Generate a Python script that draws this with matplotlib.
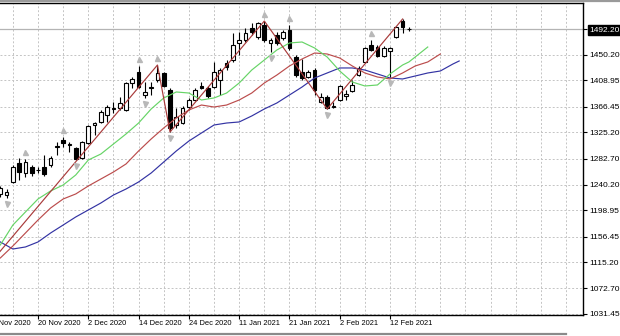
import matplotlib
matplotlib.use("Agg")
import matplotlib.pyplot as plt
from matplotlib import transforms

plt.rcParams['font.family'] = ['Liberation Sans Narrow', 'Liberation Sans', 'DejaVu Sans']

# daily bars, bar 0 = 20 Nov 2020
bars = list(range(-6, 60))
opens = [1225.5, 1223.8, 1244.9, 1275.6, 1259.4, 1269.1, 1264.3, 1269.1, 1272.3, 1301.5,
         1312.8, 1304.7, 1299.8, 1283.7, 1307.9, 1337.0, 1341.9, 1353.2, 1362.9, 1364.5,
         1361.3, 1404.9, 1422.7, 1385.5, 1396.8, 1409.8, 1421.1, 1393.6, 1337.0, 1340.2,
         1366.1, 1377.4, 1400.1, 1396.8, 1398.4, 1409.8, 1437.2, 1442.1, 1469.6, 1474.4,
         1493.8, 1479.3, 1498.7, 1469.6, 1482.5, 1477.7, 1490.6, 1446.9, 1422.7, 1414.6,
         1425.9, 1374.2, 1382.3, 1366.1, 1377.4, 1383.9, 1392.0, 1417.9, 1438.9, 1466.3,
         1463.1, 1448.6, 1456.6, 1479.3, 1505.1, 1492.2]
highs = [1238.4, 1233.5, 1272.3, 1283.7, 1282.0, 1272.3, 1269.1, 1288.5, 1286.9, 1309.5,
         1317.6, 1309.5, 1301.5, 1311.2, 1337.0, 1341.9, 1361.3, 1369.3, 1374.2, 1382.3,
         1406.5, 1414.6, 1432.4, 1406.5, 1406.5, 1434.0, 1422.7, 1396.8, 1364.5, 1367.7,
         1380.7, 1396.8, 1406.5, 1400.1, 1438.9, 1429.2, 1442.1, 1485.7, 1487.4, 1493.8,
         1501.9, 1503.0, 1505.1, 1477.7, 1487.4, 1490.6, 1498.7, 1450.2, 1443.7, 1425.9,
         1429.2, 1388.7, 1385.5, 1374.2, 1401.7, 1393.6, 1409.8, 1432.4, 1463.1, 1474.4,
         1466.3, 1464.7, 1463.1, 1497.1, 1508.4, 1495.4]
lows = [1220.6, 1219.0, 1243.2, 1248.1, 1252.9, 1254.6, 1259.4, 1254.6, 1269.1, 1288.5,
        1301.5, 1293.4, 1280.4, 1282.0, 1306.3, 1320.8, 1340.2, 1341.9, 1356.4, 1361.3,
        1359.6, 1396.8, 1396.8, 1380.7, 1385.5, 1406.5, 1398.4, 1325.7, 1332.2, 1338.6,
        1361.3, 1375.8, 1395.2, 1380.7, 1396.8, 1385.5, 1425.9, 1438.9, 1450.2, 1471.2,
        1482.5, 1476.0, 1471.2, 1455.0, 1466.3, 1474.4, 1458.3, 1414.6, 1409.8, 1413.0,
        1385.5, 1372.6, 1362.9, 1364.5, 1375.8, 1377.4, 1390.4, 1416.2, 1437.2, 1456.6,
        1446.9, 1446.9, 1414.6, 1477.7, 1485.7, 1489.0]
closes = [1235.2, 1228.7, 1269.1, 1261.0, 1277.2, 1259.4, 1264.8, 1257.8, 1283.7, 1303.1,
          1307.9, 1306.3, 1282.0, 1309.5, 1335.4, 1340.2, 1358.0, 1366.1, 1364.5, 1372.6,
          1404.9, 1411.4, 1398.4, 1390.4, 1398.4, 1421.1, 1400.1, 1332.2, 1349.9, 1364.5,
          1377.4, 1393.6, 1396.8, 1383.9, 1422.7, 1425.9, 1430.8, 1466.3, 1474.4, 1485.7,
          1487.4, 1501.9, 1474.4, 1474.4, 1469.6, 1487.4, 1461.5, 1417.9, 1413.0, 1422.7,
          1393.6, 1382.3, 1364.5, 1367.7, 1400.1, 1387.1, 1401.7, 1429.2, 1461.5, 1458.3,
          1448.6, 1461.5, 1461.5, 1495.4, 1495.4, 1492.2]

# Alligator lines (shifted forward past the last bar)
lips_bars = list(range(-6, 59, 2)) + [59, 60, 62]
lips = [1143.0, 1175.3, 1196.4, 1217.4, 1230.3, 1240.0, 1256.2, 1280.4, 1290.1, 1306.3,
        1322.5, 1340.2, 1362.9, 1380.7, 1390.4, 1388.7, 1377.4, 1380.7, 1388.7, 1404.9,
        1425.9, 1442.1, 1458.3, 1469.6, 1471.2, 1461.5, 1446.9, 1424.3, 1406.5, 1400.1,
        1401.7, 1419.5, 1434.0, 1438.9, 1446.9, 1463.1]
teeth_bars = list(range(-6, 65, 2))
teeth = [1122.0, 1141.4, 1162.4, 1183.4, 1202.8, 1217.4, 1225.5, 1238.4, 1249.7, 1261.0,
         1274.0, 1295.0, 1314.4, 1332.2, 1348.3, 1361.3, 1369.3, 1366.1, 1369.3, 1377.4,
         1388.7, 1404.9, 1417.8, 1432.4, 1443.7, 1453.4, 1451.8, 1445.3, 1432.4, 1421.1,
         1414.6, 1411.4, 1421.1, 1432.4, 1438.9, 1451.8]
jaw_bars = list(range(-6, 67, 2)) + [67]
jaw = [1147.9, 1136.5, 1139.8, 1147.9, 1162.4, 1175.3, 1188.3, 1199.6, 1210.9, 1223.8,
       1233.5, 1244.9, 1259.4, 1277.2, 1295.0, 1311.1, 1324.1, 1337.0, 1340.2, 1341.9,
       1351.6, 1362.9, 1372.6, 1385.5, 1398.4, 1413.0, 1421.1, 1429.2, 1429.2, 1425.9,
       1419.5, 1413.0, 1411.4, 1416.2, 1421.1, 1424.3, 1435.6, 1440.5]

zigzag_bars = [-8, 19, 21, 36, 46, 58]
zigzag = [1109.1, 1434.0, 1325.7, 1505.1, 1362.9, 1508.4]

fractal_up = [-2, 4, 16, 19, 36, 40, 53]
fractal_down = [-5, 6, 17, 21, 37, 46, 56]

price_ticks = [1492.20, 1450.20, 1408.95, 1366.45, 1325.20, 1282.70, 1240.20,
               1198.95, 1156.45, 1115.20, 1072.70, 1031.45]
bid = 1492.20
date_bars = [-8, 0, 8, 16, 24, 32, 40, 48, 56]
date_labels = ["10 Nov 2020", "20 Nov 2020", "2 Dec 2020", "14 Dec 2020", "24 Dec 2020",
               "11 Jan 2021", "21 Jan 2021", "2 Feb 2021", "12 Feb 2021"]

fig = plt.figure(figsize=(6.2, 3.36), dpi=100)
ax = fig.add_axes([0, 21 / 336, 583 / 620, 312 / 336])
ax.set_xlim(-6.05, 86.7)
ax.set_ylim(1029.8, 1534.25)

# grid
grid_kw = dict(color="#c4c4c4", lw=0.7, linestyle=(0, (2, 2)), zorder=0)
for p in price_ticks:
    ax.axhline(p, **grid_kw)
for b in range(-4, 87, 4):
    ax.axvline(b, **grid_kw)
ax.axhline(bid, color="#b4b4b4", lw=0.9, zorder=1)

# candles
ax.vlines(bars, lows, highs, color="black", lw=0.8, zorder=2)
bottoms = [min(o, c) for o, c in zip(opens, closes)]
heights = [abs(c - o) for o, c in zip(opens, closes)]
faces = ["white" if c >= o else "black" for o, c in zip(opens, closes)]
ax.bar(bars, heights, bottom=bottoms, width=0.6, color=faces,
       edgecolor="black", linewidth=0.8, zorder=3)

# indicators
ax.plot(jaw_bars, jaw, color="#3333a3", lw=0.85, zorder=4)
ax.plot(teeth_bars, teeth, color="#bb4c4c", lw=0.85, zorder=4)
ax.plot(lips_bars, lips, color="#66d466", lw=0.85, zorder=4)
ax.plot(zigzag_bars, zigzag, color="#a83a3a", lw=0.85, zorder=4)

up_tr = transforms.offset_copy(ax.transData, fig=fig, y=7, units="dots")
dn_tr = transforms.offset_copy(ax.transData, fig=fig, y=-6, units="dots")
ax.plot(fractal_up, [highs[bars.index(b)] for b in fractal_up], "^", ms=3.6,
        color="#b8b8b8", transform=up_tr, zorder=5)
ax.plot(fractal_down, [lows[bars.index(b)] for b in fractal_down], "v", ms=3.6,
        color="#b8b8b8", transform=dn_tr, zorder=5)

# axes styling
ax.spines["left"].set_visible(False)
for side in ["right", "bottom", "top"]:
    ax.spines[side].set_linewidth(1.0)
    ax.spines[side].set_color("black")

ax.yaxis.tick_right()
ax.set_yticks(price_ticks)
ax.set_yticklabels([f"{p:.2f}" for p in price_ticks])
ax.tick_params(axis="y", length=3, width=0.8, pad=1.5, labelsize=6, colors="black")
for lbl, p in zip(ax.get_yticklabels(), price_ticks):
    if p == bid:
        lbl.set_color("white")
        lbl.set_bbox(dict(facecolor="black", edgecolor="black", pad=0.8))

ax.set_xticks([b for b in date_bars if b > -6])
ax.set_xticklabels([])
ax.tick_params(axis="x", length=3, width=0.8)
# the first date label starts left of the chart and is cut by the window edge
date_tr = transforms.offset_copy(ax.get_xaxis_transform(), fig=fig, y=-5, units="dots")
for b, lab in zip(date_bars, date_labels):
    ax.text(b, 0, lab, transform=date_tr, ha="left", va="top", fontsize=5.4,
            color="black", clip_on=False)

# window frame lines
fig.add_artist(plt.Line2D([0, 1], [1 - 1 / 336, 1 - 1 / 336], transform=fig.transFigure,
                          color="#9a9a9a", lw=1.6))
fig.add_artist(plt.Line2D([0, 566 / 620], [2.5 / 336, 2.5 / 336], transform=fig.transFigure,
                          color="#8a8a8a", lw=1.6))

fig.savefig("out.png", dpi=100)
